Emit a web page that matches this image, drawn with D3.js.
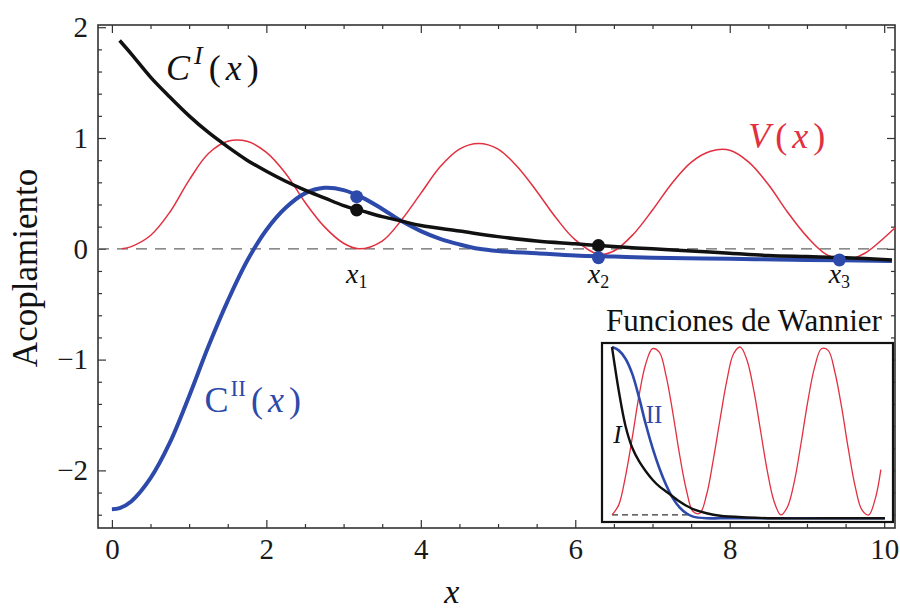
<!DOCTYPE html>
<meta charset="utf-8">
<head>
  <script src="https://d3js.org/d3.v7.min.js"></script>
  <style>
    body { margin: 0; background: #fff; }
    svg text { font-family: "Liberation Serif", "DejaVu Serif", serif !important; }
  </style>
</head>
<body>
<div id="chart"></div>
<script>

// main curves (x, value)
var cIx  = [0.1, 0.25, 0.5, 0.75, 1, 1.25, 1.5, 1.75, 2, 2.25, 2.5, 2.75, 3, 3.25, 3.5, 3.75, 4, 4.5, 5, 5.5, 6, 6.5, 7, 7.5, 8, 8.5, 9, 9.5, 10.1];
var cIy  = [1.88, 1.76, 1.55, 1.37, 1.20, 1.05, 0.92, 0.80, 0.70, 0.61, 0.53, 0.46, 0.39, 0.34, 0.29, 0.25, 0.21, 0.16, 0.11, 0.07, 0.045, 0.02, 0.0, -0.02, -0.04, -0.06, -0.07, -0.08, -0.1];

var cIIx = [0, 0.1, 0.25, 0.5, 0.75, 1, 1.25, 1.5, 1.75, 2, 2.25, 2.5, 2.75, 3, 3.25, 3.5, 3.75, 4, 4.25, 4.5, 4.75, 5, 5.5, 6, 6.5, 7, 8, 9, 10.1];
var cIIy = [-2.35, -2.34, -2.28, -2.07, -1.75, -1.33, -0.88, -0.47, -0.11, 0.17, 0.37, 0.50, 0.55, 0.53, 0.46, 0.36, 0.25, 0.16, 0.09, 0.04, 0.0, -0.02, -0.04, -0.06, -0.07, -0.08, -0.09, -0.10, -0.11];

var vx = [0.13, 0.25, 0.5, 0.75, 1, 1.25, 1.5, 1.75, 2, 2.25, 2.5, 2.75, 3, 3.2, 3.5, 3.75, 4, 4.25, 4.5, 4.75, 5, 5.25, 5.5, 5.75, 6, 6.3, 6.5, 6.75, 7, 7.25, 7.5, 7.75, 8, 8.25, 8.5, 8.75, 9, 9.25, 9.5, 9.75, 10, 10.14];
var vy = [0.0, 0.02, 0.12, 0.33, 0.62, 0.86, 0.97, 0.97, 0.87, 0.68, 0.42, 0.20, 0.05, 0.0, 0.07, 0.26, 0.50, 0.74, 0.90, 0.95, 0.90, 0.74, 0.52, 0.28, 0.08, -0.05, -0.02, 0.13, 0.35, 0.59, 0.78, 0.88, 0.89, 0.78, 0.58, 0.33, 0.11, -0.05, -0.10, -0.04, 0.10, 0.19];

// marked sites x1, x2, x3
var siteX   = [3.17, 6.3, 9.42];
var siteLbl = ["1", "2", "3"];
var dotIIy  = [0.47, -0.08, -0.10];
var dotIy   = [0.35, 0.03];

// inset: Wannier functions
var wx  = [0, 0.25, 0.5, 0.75, 1, 1.25, 1.5, 1.75, 2, 2.25, 2.5, 2.75, 3, 3.5, 4, 5, 6, 8, 10.1];
var wIy  = [1.0, 0.74, 0.53, 0.40, 0.32, 0.26, 0.21, 0.17, 0.14, 0.11, 0.08, 0.055, 0.035, 0.01, -0.005, -0.015, -0.02, -0.02, -0.02];
var wIIy = [1.0, 0.98, 0.93, 0.84, 0.70, 0.54, 0.40, 0.28, 0.18, 0.10, 0.045, 0.01, -0.01, -0.02, -0.02, -0.02, -0.02, -0.02, -0.02];
var wvx = [0, 0.25, 0.5, 0.75, 1, 1.25, 1.5, 1.75, 2, 2.25, 2.5, 2.75, 3, 3.25, 3.5, 3.75, 4, 4.25, 4.5, 4.75, 5, 5.25, 5.5, 5.75, 6, 6.25, 6.5, 6.75, 7, 7.25, 7.5, 7.75, 8, 8.25, 8.5, 8.75, 9, 9.25, 9.5, 9.75, 9.95];
var wvy = [0, 0.06, 0.23, 0.46, 0.71, 0.90, 0.99, 0.97, 0.83, 0.61, 0.36, 0.15, 0.02, 0.01, 0.12, 0.33, 0.57, 0.80, 0.96, 1.0, 0.92, 0.74, 0.50, 0.26, 0.08, 0.0, 0.05, 0.20, 0.43, 0.68, 0.88, 0.99, 0.98, 0.85, 0.64, 0.39, 0.17, 0.03, 0.0, 0.10, 0.27];
var wDash = [0, 2.8];

var xMajor = [0, 2, 4, 6, 8, 10];
var yMajor = [-2, -1, 0, 1, 2];

var black = "#111", blue = "#2d4aab", red = "#e23040";
var serif = "'Liberation Serif', 'DejaVu Serif', serif";

var W = 900, H = 610;
var svg = d3.select("#chart").append("svg")
  .attr("width", W).attr("height", H)
  .attr("font-family", serif);

var x = d3.scaleLinear().domain([-0.18, 10.14]).range([98, 895]);
var y = d3.scaleLinear().domain([-2.52, 2.02]).range([528, 25]);

var xMinor = d3.range(0, 10.01, 0.5).filter(function(d) { return d % 2 != 0; });
var yMinor = d3.range(-2.4, 2.01, 0.2).map(function(d) { return +d.toFixed(1); })
  .filter(function(d) { return Math.abs(d - Math.round(d)) > 0.01; });

// ticks on all four sides, pointing in
function ticks(axis, scale, major, minor, pos, labels) {
  var g = svg.append("g").attr("transform", pos);
  g.call(axis(scale).tickValues(minor).tickSize(-4).tickFormat(""));
  var g2 = svg.append("g").attr("transform", pos);
  var a = axis(scale).tickValues(major).tickSize(-8).tickPadding(labels ? 10 : 0)
    .tickFormat(labels ? d3.format("d") : "");
  g2.call(a);
  [g, g2].forEach(function(s) {
    s.attr("font-family", serif);
    s.select(".domain").remove();
    s.selectAll("line").attr("stroke", "#333").attr("stroke-width", 1.2);
    s.selectAll("text").attr("font-size", 29).attr("fill", "#1a1a1a");
  });
}
ticks(d3.axisBottom, x, xMajor, xMinor, "translate(0,528)", true);
ticks(d3.axisTop, x, xMajor, xMinor, "translate(0,25)", false);
ticks(d3.axisLeft, y, yMajor, yMinor, "translate(98,0)", true);
ticks(d3.axisRight, y, yMajor, yMinor, "translate(895,0)", false);

svg.append("rect")
  .attr("x", 98).attr("y", 25).attr("width", 797).attr("height", 503)
  .attr("fill", "none").attr("stroke", "#333").attr("stroke-width", 1.6);

// zero line
svg.append("line")
  .attr("x1", x(-0.18)).attr("x2", x(10.1))
  .attr("y1", y(0)).attr("y2", y(0))
  .attr("stroke", "#666").attr("stroke-width", 1.3)
  .attr("stroke-dasharray", "11,8");

function zip(a, b) { return a.map(function(d, i) { return [d, b[i]]; }); }

var line = d3.line()
  .x(function(d) { return x(d[0]); })
  .y(function(d) { return y(d[1]); })
  .curve(d3.curveCatmullRom);

svg.append("path").datum(zip(vx, vy))
  .attr("fill", "none").attr("stroke", red).attr("stroke-width", 1.5).attr("d", line);
svg.append("path").datum(zip(cIIx, cIIy))
  .attr("fill", "none").attr("stroke", blue).attr("stroke-width", 4).attr("d", line);
svg.append("path").datum(zip(cIx, cIy))
  .attr("fill", "none").attr("stroke", black).attr("stroke-width", 3.5).attr("d", line);

// site dots
svg.selectAll(".dI").data(dotIy).enter().append("circle")
  .attr("cx", function(d, i) { return x(siteX[i]); })
  .attr("cy", function(d) { return y(d); })
  .attr("r", 6.5).attr("fill", black);
svg.selectAll(".dII").data(dotIIy).enter().append("circle")
  .attr("cx", function(d, i) { return x(siteX[i]); })
  .attr("cy", function(d) { return y(d); })
  .attr("r", 6.5).attr("fill", blue);

// x1 x2 x3
siteX.forEach(function(s, i) {
  var t = svg.append("text")
    .attr("x", x(s)).attr("y", y(-0.31))
    .attr("text-anchor", "middle").attr("font-size", 28).attr("fill", "#111");
  t.append("tspan").attr("font-style", "italic").text("x");
  t.append("tspan").attr("font-size", 18).attr("dy", 5).text(siteLbl[i]);
});

// curve labels
var tI = svg.append("text").attr("x", x(0.70)).attr("y", y(1.52))
  .attr("font-size", 36).attr("fill", black);
tI.append("tspan").attr("font-style", "italic").text("C");
tI.append("tspan").attr("font-style", "italic").attr("font-size", 26).attr("dy", -16).attr("dx", 4).text("I");
tI.append("tspan").attr("dy", 16).attr("dx", 6).text("(");
tI.append("tspan").attr("font-style", "italic").attr("dx", 5).text("x");
tI.append("tspan").attr("dx", 5).text(")");

var tV = svg.append("text").attr("x", x(8.24)).attr("y", y(0.91))
  .attr("font-size", 36).attr("fill", red);
tV.append("tspan").attr("font-style", "italic").text("V");
tV.append("tspan").attr("dx", 5).text("(");
tV.append("tspan").attr("font-style", "italic").attr("dx", 5).text("x");
tV.append("tspan").attr("dx", 5).text(")");

var tII = svg.append("text").attr("x", x(1.2)).attr("y", y(-1.47))
  .attr("font-size", 36).attr("fill", blue);
tII.append("tspan").text("C");
tII.append("tspan").attr("font-size", 23).attr("dy", -16).attr("dx", 2).text("II");
tII.append("tspan").attr("dy", 16).attr("dx", 5).text("(");
tII.append("tspan").attr("font-style", "italic").attr("dx", 5).text("x");
tII.append("tspan").attr("dx", 5).text(")");

// axis titles
svg.append("text").attr("x", x(4.4)).attr("y", 603)
  .attr("text-anchor", "middle").attr("font-size", 34).attr("font-style", "italic")
  .attr("fill", "#111").text("x");
svg.append("text").attr("transform", "translate(37,268) rotate(-90)")
  .attr("text-anchor", "middle").attr("font-size", 35).attr("fill", "#111")
  .text("Acoplamiento");

// inset
var ix = d3.scaleLinear().domain([-0.37, 10.4]).range([602, 893]);
var iy = d3.scaleLinear().domain([-0.042, 1.024]).range([522, 343]);

svg.append("text").attr("x", 744).attr("y", 331)
  .attr("text-anchor", "middle").attr("font-size", 31).attr("fill", "#111")
  .text("Funciones de Wannier");

svg.append("rect")
  .attr("x", 602).attr("y", 343).attr("width", 291).attr("height", 179)
  .attr("fill", "#fff").attr("stroke", "#111").attr("stroke-width", 2.2);

var iline = d3.line()
  .x(function(d) { return ix(d[0]); })
  .y(function(d) { return iy(d[1]); })
  .curve(d3.curveCatmullRom);

svg.append("line")
  .attr("x1", ix(wDash[0])).attr("x2", ix(wDash[1]))
  .attr("y1", iy(0)).attr("y2", iy(0))
  .attr("stroke", "#333").attr("stroke-width", 1.2).attr("stroke-dasharray", "6,4");
svg.append("path").datum(zip(wvx, wvy))
  .attr("fill", "none").attr("stroke", red).attr("stroke-width", 1.3).attr("d", iline);
svg.append("path").datum(zip(wx, wIIy))
  .attr("fill", "none").attr("stroke", blue).attr("stroke-width", 2.6).attr("d", iline);
svg.append("path").datum(zip(wx, wIy))
  .attr("fill", "none").attr("stroke", black).attr("stroke-width", 2.4).attr("d", iline);

svg.append("text").attr("x", ix(0.05)).attr("y", iy(0.43))
  .attr("font-size", 25).attr("font-style", "italic").attr("fill", black).text("I");
svg.append("text").attr("x", ix(1.25)).attr("y", iy(0.55))
  .attr("font-size", 25).attr("fill", blue).text("II");

</script>
</body>
